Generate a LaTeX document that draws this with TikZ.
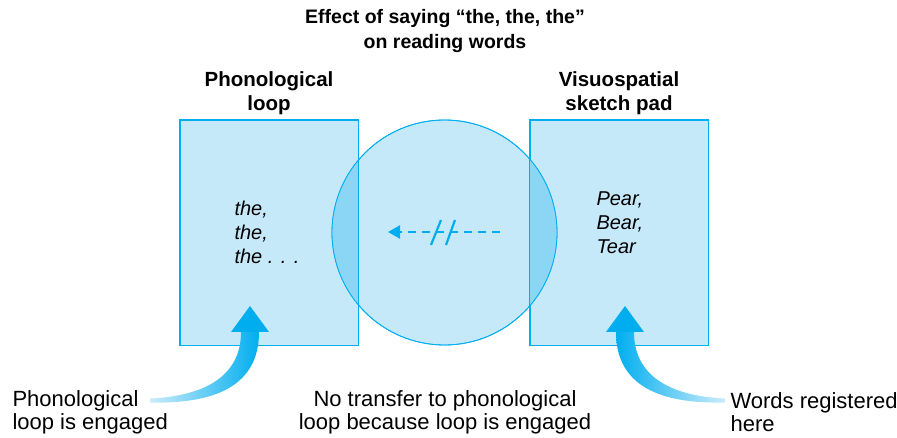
\documentclass[tikz,border=0pt]{standalone}
\usepackage{fontspec}
\setmainfont{Liberation Sans}
\usetikzlibrary{arrows.meta,positioning,calc}
\definecolor{padcolor}{RGB}{198, 233, 249}
\definecolor{overlapcolor}{RGB}{140, 214, 245}
\definecolor{linecolor}{RGB}{0, 174, 239}
\definecolor{tailcolor}{RGB}{205, 236, 251}
\tikzset{
storebox/.style={
  draw=linecolor,
  line width=0.8pt,
  fill=padcolor,
  minimum width=178pt,
  minimum height=225pt,
  inner sep=0pt
},
bufferdisc/.style={
  circle,
  draw=linecolor,
  line width=0.8pt,
  fill=padcolor,
  minimum size=225pt,
  inner sep=0pt
},
titlelabel/.style={
  font=\fontsize{20.5}{24}\selectfont\bfseries,
  align=center
},
itemlabel/.style={
  font=\fontsize{20}{24}\selectfont\itshape,
  align=left
},
notelabel/.style={
  font=\fontsize{22}{23}\selectfont,
  align=left
},
blockedarrow/.style={
  draw=linecolor,
  line width=2.2pt,
  dash pattern=on 8pt off 6pt,
  -{Triangle[length=12pt,width=13pt]}
},
slash/.style={
  draw=linecolor,
  line width=2.2pt
}
}

\begin{document}
\begin{tikzpicture}[x=1pt, y=-1pt]
        \useasboundingbox (0,0) rectangle (897,438);

        % title
        \node[titlelabel, font=\fontsize{19.5}{25}\selectfont\bfseries] (title) at (445,31) {Effect of saying “the, the, the”\\on reading words};

        % stores and buffer
        \node[storebox] (loop) at (269,232.5) {};
        \node[storebox] (pad) at (619,232.5) {};
        \node[bufferdisc] (buffer) at (444.5,232.5) {};
        \begin{scope}
          \clip (buffer.center) circle (112.5pt);
          \fill[overlapcolor] (loop.south west) rectangle (loop.north east);
          \fill[overlapcolor] (pad.south west) rectangle (pad.north east);
        \end{scope}
        \draw[linecolor, line width=0.8pt] (loop.south west) rectangle (loop.north east);
        \draw[linecolor, line width=0.8pt] (pad.south west) rectangle (pad.north east);
        \draw[linecolor, line width=0.8pt] (buffer.center) circle (112.5pt);

        % store titles
        \node[titlelabel, above=1pt of loop] (looptitle) {Phonological\\loop};
        \node[titlelabel, above=1pt of pad] (padtitle) {Visuospatial\\sketch pad};

        % contents
        \node[itemlabel, anchor=west] (rehearsal) at (231,232) {the,\\the,\\the . . .};
        \node[itemlabel, anchor=west] (words) at (593,223) {Pear,\\Bear,\\Tear};

        % blocked transfer
        \coordinate (from) at (500,232);
        \coordinate (to) at (388,232);
        \draw[blockedarrow] (from) -- (to);
        \draw[slash] (431,245) -- (441,220);
        \draw[slash] (446,245) -- (455,220);

        % notes
        \node[notelabel, anchor=west] (engaged) at (9,412.5) {Phonological\\loop is engaged};
        \node[notelabel, align=center] (notransfer) at (445,412.5) {No transfer to phonological\\loop because loop is engaged};
        \node[notelabel, anchor=west] (registered) at (727,412.5) {Words registered\\here};

        % curved arrows
        \shade[left color=tailcolor, right color=linecolor]
          (150,398.5) .. controls (205,396) and (241,376) .. (241,332)
          -- (259,332) .. controls (259,386) and (215,404) .. (150,402.5) -- cycle;
        \fill[linecolor] (231,332) -- (250,306) -- (269,332) -- cycle;
        \shade[left color=linecolor, right color=tailcolor]
          (725,398.5) .. controls (670,396) and (634,376) .. (634,332)
          -- (616,332) .. controls (616,386) and (660,404) .. (725,402.5) -- cycle;
        \fill[linecolor] (644,332) -- (625,306) -- (606,332) -- cycle;
      \end{tikzpicture}
\end{document}
